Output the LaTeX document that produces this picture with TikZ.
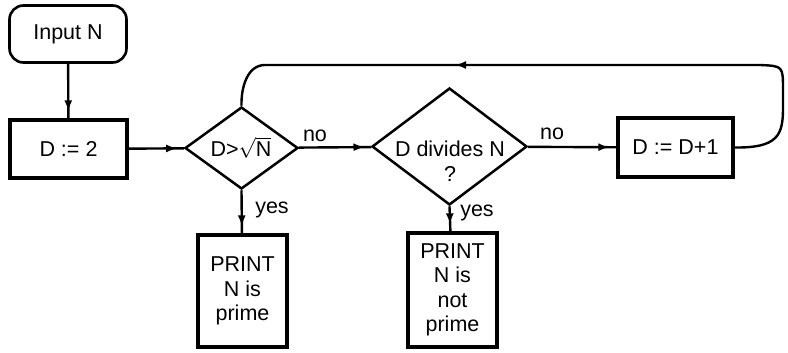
\documentclass[tikz,border=0pt]{standalone}
\usepackage{fontspec}
\setmainfont{Liberation Sans}
\usetikzlibrary{shapes.geometric,arrows.meta,decorations.markings}
\begin{document}
\begin{tikzpicture}[x=1pt,y=-1pt,
  every node/.style={font=\fontsize{21.5}{24.5}\selectfont,inner sep=0pt},
  box/.style={draw,line width=3.3pt,align=center},
  dia/.style={draw,diamond,line width=2.5pt},
  conn/.style={line width=2.4pt,postaction={decorate},
    decoration={markings,mark=at position -7pt with {\arrow{Latex[length=11pt,width=8pt]}}}},
  loopline/.style={line width=2.4pt},
  tip/.style={line width=2.4pt,-{Latex[length=11pt,width=8pt]}}
]
\useasboundingbox (0,0) rectangle (788,353);

\node[draw,rounded corners=14pt,line width=2.6pt,minimum width=117pt,minimum height=57pt] (in) at (68,34) {Input N};
\node[box,minimum width=117pt,minimum height=58pt] (d0) at (68.5,149) {D := 2};
\node[dia,minimum width=113pt,minimum height=82pt] (c1) at (241.5,148) {};
\node (c1t) at (241,148) {D>$\sqrt{\hbox{N}}$};
\node[dia,minimum width=155pt,minimum height=117pt] (c2) at (449.5,146.5) {};
\node[align=center] (c2t) at (450,161) {D divides N\\?};
\node[box,minimum width=115pt,minimum height=59pt] (d3) at (675.5,147.5) {D := D+1};
\node[box,minimum width=89pt,minimum height=112pt] (p1) at (242.5,291) {PRINT\\N is\\prime};
\node[box,minimum width=89pt,minimum height=114pt] (p2) at (452.5,290) {PRINT\\N is\\not\\prime};

\node (no1) at (315,136) {no};
\node (no2) at (552,134) {no};
\node (yes1) at (272,210) {yes};
\node (yes2) at (477,213) {yes};

\draw[conn] (in) -- (d0);
\draw[conn] (d0) -- (c1);
\draw[conn] (c1) -- (c2);
\draw[conn] (c2) -- (d3);
\draw[conn] (c1.south) -- (p1);
\draw[conn] (c2.south) -- (p2);

\coordinate (tr) at (600,65);
\coordinate (tm) at (455,65);
\draw[loopline] (d3.east) .. controls (778,148) and (783,135) .. (783,108) -- (783,90) .. controls (783,66) .. (760,65) -- (265,65) .. controls (247,65) and (241,88) .. (c1.north);
\draw[tip] (tr) -- (tm);
\end{tikzpicture}
\end{document}
